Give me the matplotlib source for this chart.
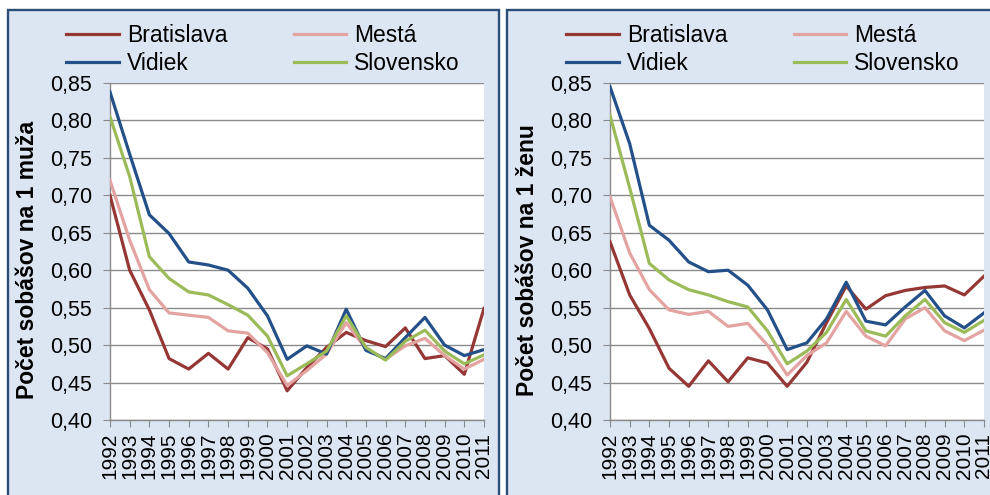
import matplotlib
matplotlib.use("Agg")
import matplotlib.pyplot as plt
from matplotlib.patches import Rectangle
from matplotlib.ticker import FuncFormatter

plt.rcParams['font.family'] = ['Liberation Sans', 'DejaVu Sans']

years = [str(y) for y in range(1992, 2012)]

# Počet sobášov na 1 muža
muz_bratislava = [0.700, 0.600, 0.547, 0.482, 0.468, 0.489, 0.468, 0.510, 0.495, 0.439,
                  0.470, 0.497, 0.517, 0.506, 0.498, 0.523, 0.482, 0.486, 0.461, 0.549]
muz_mesta = [0.720, 0.640, 0.574, 0.543, 0.540, 0.537, 0.519, 0.516, 0.490, 0.446,
             0.466, 0.488, 0.530, 0.495, 0.481, 0.499, 0.509, 0.486, 0.468, 0.481]
muz_vidiek = [0.838, 0.755, 0.674, 0.649, 0.611, 0.607, 0.600, 0.576, 0.539, 0.481,
              0.499, 0.488, 0.548, 0.493, 0.482, 0.510, 0.537, 0.500, 0.486, 0.494]
muz_slovensko = [0.805, 0.725, 0.618, 0.589, 0.571, 0.567, 0.554, 0.540, 0.512, 0.459,
                 0.475, 0.492, 0.539, 0.497, 0.480, 0.505, 0.520, 0.492, 0.475, 0.487]

# Počet sobášov na 1 ženu
zena_bratislava = [0.638, 0.567, 0.522, 0.469, 0.445, 0.479, 0.451, 0.483, 0.476, 0.445,
                   0.477, 0.530, 0.579, 0.548, 0.566, 0.573, 0.577, 0.579, 0.567, 0.592]
zena_mesta = [0.698, 0.623, 0.574, 0.547, 0.541, 0.545, 0.525, 0.529, 0.500, 0.460,
              0.486, 0.503, 0.545, 0.512, 0.499, 0.535, 0.550, 0.519, 0.506, 0.520]
zena_vidiek = [0.845, 0.769, 0.660, 0.640, 0.611, 0.598, 0.600, 0.580, 0.547, 0.494,
               0.503, 0.535, 0.584, 0.532, 0.527, 0.551, 0.573, 0.539, 0.523, 0.543]
zena_slovensko = [0.807, 0.710, 0.609, 0.587, 0.574, 0.567, 0.558, 0.551, 0.519, 0.475,
                  0.492, 0.517, 0.561, 0.519, 0.512, 0.539, 0.561, 0.530, 0.517, 0.533]

names = ['Bratislava', 'Mestá', 'Vidiek', 'Slovensko']
colors = ['#953735', '#E3A3A1', '#245089', '#9BBB59']
yticks = [0.40, 0.45, 0.50, 0.55, 0.60, 0.65, 0.70, 0.75, 0.80, 0.85]

W, H = 990, 495
fig = plt.figure(figsize=(W / 100, H / 100), dpi=100)
fig.patch.set_facecolor('white')

# light blue chart areas with dark blue border
for x0, x1 in [(8, 499), (507, 1000)]:
    fig.patches.append(Rectangle((x0 / W, -0.05), (x1 - x0) / W, 1.05 - 10 / H,
                                 transform=fig.transFigure, facecolor='#DCE6F2',
                                 edgecolor='#2C4D75', linewidth=1.7, zorder=-10))

panels = [
    (0, 'Počet sobášov na 1 muža', [muz_bratislava, muz_mesta, muz_vidiek, muz_slovensko]),
    (500, 'Počet sobášov na 1 ženu', [zena_bratislava, zena_mesta, zena_vidiek, zena_slovensko]),
]

for off, ylabel, series in panels:
    ax = fig.add_axes([(110 + off) / W, 1 - 420 / H, 374 / W, 337 / H])
    ax.set_facecolor('white')
    x = list(range(len(years)))
    lines = []
    for name, vals, c in zip(names, series, colors):
        ln, = ax.plot(x, vals, color=c, linewidth=2.3, label=name, zorder=3)
        lines.append(ln)

    ax.set_xlim(0, len(years) - 1)
    ax.set_ylim(0.40, 0.85)
    ax.set_yticks(yticks)
    ax.yaxis.set_major_formatter(FuncFormatter(lambda v, p: f'{v:.2f}'.replace('.', ',')))
    ax.set_xticks(x)
    ax.set_xticklabels(years, rotation=90)
    ax.grid(axis='y', color='#8A8A8A', linewidth=1.0, zorder=1)
    for s in ['top', 'right']:
        ax.spines[s].set_visible(False)
    for s in ['left', 'bottom']:
        ax.spines[s].set_color('#8A8A8A')
        ax.spines[s].set_linewidth(1.0)
    ax.tick_params(axis='y', length=5, color='#8A8A8A', labelsize=15.5, pad=8)
    ax.tick_params(axis='x', length=5, color='#8A8A8A', labelsize=15, pad=4)

    ax.set_ylabel(ylabel, fontsize=16.5, fontweight='bold', ha='center', va='center')
    ax.yaxis.set_label_coords((28 - 110) / 374, (420 - 260) / 337)

    order = [0, 2, 1, 3]
    fig.legend([lines[i] for i in order], [names[i] for i in order], ncol=2,
               loc='upper left', bbox_to_anchor=((66 + off) / W, 1 - 24 / H),
               bbox_transform=fig.transFigure, frameon=False, fontsize=16.5,
               handlelength=2.3, handletextpad=0.35, columnspacing=2.9,
               labelspacing=0.2, borderpad=0, borderaxespad=0)

fig.savefig('out.png', dpi=100)
